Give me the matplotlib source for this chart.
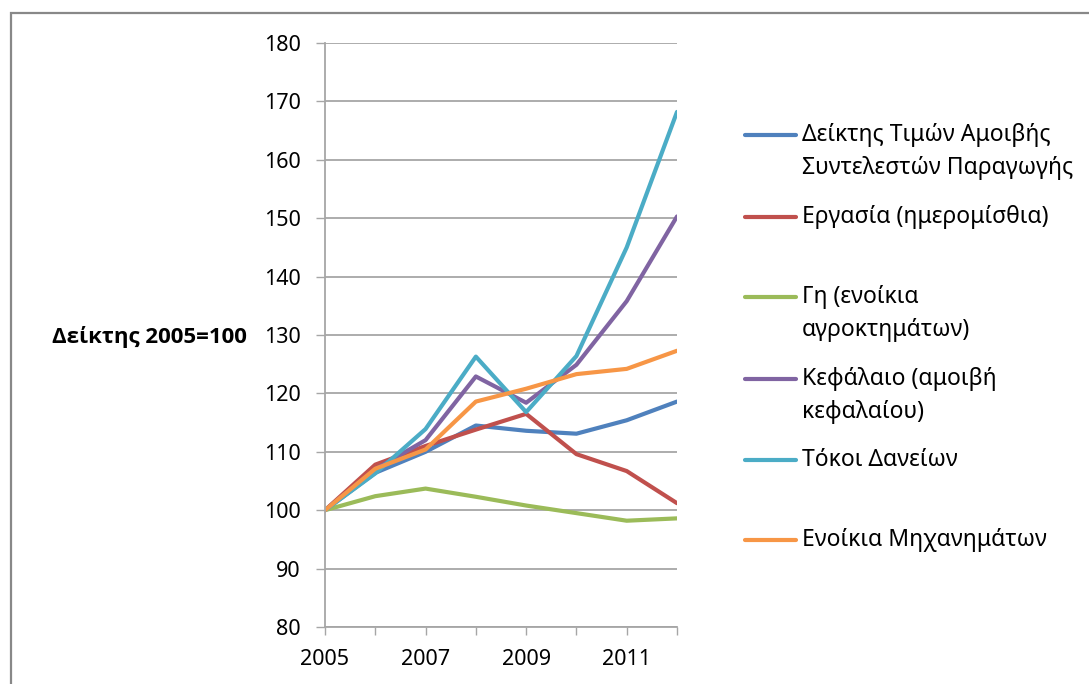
import matplotlib
matplotlib.use("Agg")
import matplotlib.pyplot as plt
from matplotlib.lines import Line2D
from matplotlib.patches import Rectangle

plt.rcParams["font.family"] = ["Noto Sans", "DejaVu Sans"]

# --- data (index, 2005 = 100) ---
years = [2005, 2006, 2007, 2008, 2009, 2010, 2011, 2012]
factor_index = [100, 106.4, 110.0, 114.5, 113.6, 113.1, 115.4, 118.6]
labour = [100, 107.8, 111.0, 113.8, 116.5, 109.6, 106.7, 101.2]
land = [100, 102.4, 103.7, 102.3, 100.8, 99.5, 98.2, 98.6]
capital = [100, 107.0, 112.0, 122.9, 118.4, 124.9, 135.8, 150.3]
interest = [100, 106.3, 113.9, 126.3, 116.8, 126.4, 145.0, 168.2]
machinery = [100, 107.1, 110.4, 118.6, 120.8, 123.3, 124.2, 127.3]

labels = [
    "Δείκτης Τιμών Αμοιβής\nΣυντελεστών Παραγωγής",
    "Εργασία (ημερομίσθια)",
    "Γη (ενοίκια\nαγροκτημάτων)",
    "Κεφάλαιο (αμοιβή\nκεφαλαίου)",
    "Τόκοι Δανείων",
    "Ενοίκια Μηχανημάτων",
]
series = [factor_index, labour, land, capital, interest, machinery]
colors = ["#4F81BD", "#C0504D", "#9BBB59", "#8064A2", "#4BACC6", "#F79646"]

yticks = list(range(80, 181, 10))
xtick_labels = [str(y) if y % 2 == 1 else "" for y in years]

W, H = 1089, 684
fig = plt.figure(figsize=(W / 100, H / 100), dpi=100)

# outer chart border (cut off at bottom/right like the screenshot)
fig.patches.append(Rectangle((11 / W, -0.2), 1.2, (H - 13) / H + 0.2,
                             transform=fig.transFigure, fill=False,
                             edgecolor="#888888", linewidth=1.6))

ax = fig.add_axes([325 / W, 1 - 627 / H, (677 - 325) / W, (627 - 43) / H])

for vals, c in zip(series, colors):
    ax.plot(years, vals, color=c, linewidth=3.0,
            solid_capstyle="round", solid_joinstyle="round")

ax.set_xlim(years[0], years[-1])
ax.set_ylim(yticks[0], yticks[-1])
ax.set_yticks(yticks)
ax.set_xticks(years)
ax.set_xticklabels(xtick_labels)
ax.yaxis.grid(True, color="#A6A6A6", linewidth=1.3)
ax.set_axisbelow(True)

for s in ["top", "right"]:
    ax.spines[s].set_visible(False)
for s in ["left", "bottom"]:
    ax.spines[s].set_color("#A6A6A6")
    ax.spines[s].set_linewidth(1.3)

ax.tick_params(axis="y", length=6.5, width=1.0, color="#A6A6A6",
               pad=11, labelsize=15.5)
ax.tick_params(axis="x", length=6, width=1.0, color="#A6A6A6",
               pad=10, labelsize=15.5)

fig.text(247 / W, 1 - 337 / H, "Δείκτης 2005=100", ha="right", va="center",
         fontsize=16, fontweight="bold",
         family=["Open Sans", "DejaVu Sans"])

# legend drawn by hand to match the uneven spacing of the original
legend_y = [151.5, 217, 313.5, 395.5, 460, 540]
handle_y = [135, 217, 297, 379, 460, 540]
for lab, c, ty, hy in zip(labels, colors, legend_y, handle_y):
    fig.add_artist(Line2D([745 / W, 796 / W], [1 - hy / H, 1 - hy / H],
                          color=c, linewidth=3.0, solid_capstyle="round"))
    fig.text(802 / W, 1 - ty / H, lab, ha="left", va="center",
             fontsize=16.5, linespacing=1.45)

fig.savefig("out.png", dpi=100, facecolor="white")
